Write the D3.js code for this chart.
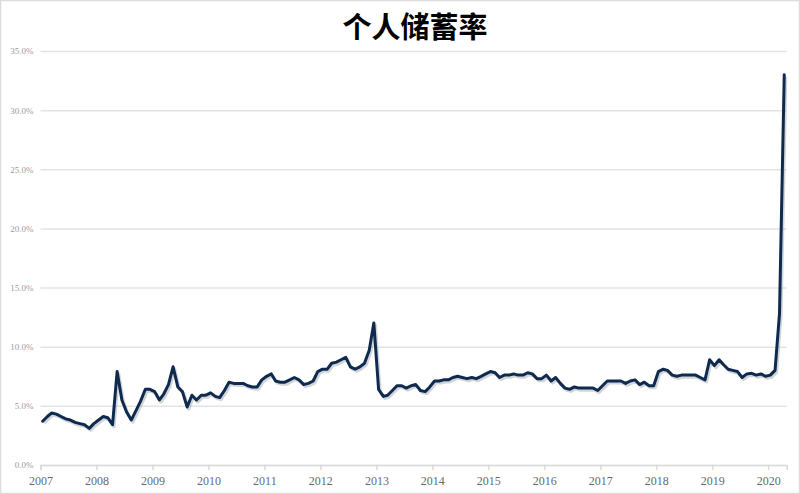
<!DOCTYPE html>
<html>
<head>
<meta charset="utf-8">
<script src="https://cdn.jsdelivr.net/npm/d3@7"></script>
<style>
  html, body { margin: 0; padding: 0; background: #fff; }
  svg { display: block; }
</style>
</head>
<body>
<svg id="chart" width="800" height="494"></svg>
<script>
// ---- data (monthly personal saving rate, %) ----
const startYear = 2007;
const rate2007 = [3.7, 4.1, 4.4, 4.3, 4.1, 3.9, 3.8, 3.6, 3.5, 3.4, 3.1, 3.5];
const rate2008 = [3.8, 4.1, 4.0, 3.4, 7.9, 5.5, 4.5, 3.8, 4.6, 5.4, 6.4, 6.4];
const rate2009 = [6.2, 5.5, 6.0, 6.8, 8.3, 6.6, 6.2, 4.9, 5.9, 5.5, 5.9, 5.9];
const rate2010 = [6.1, 5.8, 5.7, 6.3, 7.0, 6.9, 6.9, 6.9, 6.7, 6.6, 6.6, 7.2];
const rate2011 = [7.5, 7.7, 7.1, 7.0, 7.0, 7.2, 7.4, 7.2, 6.8, 6.9, 7.1, 7.9];
const rate2012 = [8.1, 8.1, 8.6, 8.7, 8.9, 9.1, 8.3, 8.1, 8.3, 8.6, 9.7, 12.0];
const rate2013 = [6.4, 5.8, 5.9, 6.3, 6.7, 6.7, 6.5, 6.7, 6.8, 6.3, 6.2, 6.6];
const rate2014 = [7.1, 7.1, 7.2, 7.2, 7.4, 7.5, 7.4, 7.3, 7.4, 7.3, 7.5, 7.7];
const rate2015 = [7.9, 7.8, 7.4, 7.6, 7.6, 7.7, 7.6, 7.6, 7.8, 7.7, 7.3, 7.3];
const rate2016 = [7.6, 7.1, 7.4, 6.9, 6.5, 6.4, 6.6, 6.5, 6.5, 6.5, 6.5, 6.3];
const rate2017 = [6.7, 7.1, 7.1, 7.1, 7.1, 6.9, 7.1, 7.2, 6.8, 7.0, 6.7, 6.7];
const rate2018 = [7.9, 8.1, 8.0, 7.6, 7.5, 7.6, 7.6, 7.6, 7.6, 7.4, 7.2, 8.9];
const rate2019 = [8.4, 8.9, 8.5, 8.1, 8.0, 7.9, 7.4, 7.7, 7.75, 7.6, 7.7, 7.5];
const rate2020 = [7.6, 8.0, 12.8, 33.0];

const yTicks = [0, 5, 10, 15, 20, 25, 30, 35];
const xTickYears = [2007, 2008, 2009, 2010, 2011, 2012, 2013, 2014, 2015, 2016, 2017, 2018, 2019, 2020];
const titleText = "个人储蓄率";

// ---- build series ----
const allYears = [rate2007, rate2008, rate2009, rate2010, rate2011, rate2012, rate2013,
                  rate2014, rate2015, rate2016, rate2017, rate2018, rate2019, rate2020];
const series = [];
allYears.forEach((arr, yi) => {
  arr.forEach((v, m) => series.push({ date: new Date(startYear + yi, m, 15), value: v }));
});

const svg = d3.select("#chart");
const W = 800, H = 494;

// frame
svg.append("rect").attr("x", 0.5).attr("y", 0.5).attr("width", W - 1).attr("height", H - 1)
  .attr("fill", "#fff").attr("stroke", "#dcdcdc").attr("stroke-width", 1.5);

const x = d3.scaleTime()
  .domain([new Date(2007, 0, 1), new Date(2020, 4, 1)])
  .range([40.5, 786.7]);
const y = d3.scaleLinear().domain([0, 35]).range([465, 51]);

// gridlines + y labels
const yAxis = d3.axisLeft(y).tickValues(yTicks)
  .tickSize(-(786.7 - 40.5)).tickPadding(7)
  .tickFormat(d => d3.format(".1f")(d) + "%");
const gy = svg.append("g").attr("transform", "translate(40.5,0)").call(yAxis);
gy.select(".domain").remove();
gy.selectAll(".tick line").attr("stroke", "#e3e3e3").attr("stroke-width", 1.5);
gy.selectAll(".tick text").attr("fill", "#9a9a9a")
  .style("font-family", "'Liberation Serif', 'DejaVu Serif', serif")
  .style("font-size", "9px");

// x axis
const xAxis = d3.axisBottom(x)
  .tickValues(xTickYears.map(yr => new Date(yr, 0, 1)))
  .tickSize(5).tickPadding(6)
  .tickFormat(d3.timeFormat("%Y"));
const gx = svg.append("g").attr("transform", "translate(0,465)").call(xAxis);
gx.select(".domain").attr("stroke", "#d9d9d9").attr("stroke-width", 1.5);
gx.selectAll(".tick line").attr("stroke", "#d9d9d9").attr("stroke-width", 1.5);
gx.selectAll(".tick text").attr("fill", "#6a6a6a")
  .style("font-family", "'Liberation Serif', 'DejaVu Serif', serif")
  .style("font-size", "12px");

// line with soft shadow
const line = d3.line().x(d => x(d.date)).y(d => y(d.value));
svg.append("path").datum(series)
  .attr("d", line)
  .attr("transform", "translate(1.5,2)")
  .attr("fill", "none").attr("stroke", "#9aa0a8").attr("stroke-opacity", 0.45)
  .attr("stroke-width", 3.2).attr("stroke-linejoin", "round");
svg.append("path").datum(series)
  .attr("d", line)
  .attr("fill", "none").attr("stroke", "#0f2a4f")
  .attr("stroke-width", 3).attr("stroke-linejoin", "round").attr("stroke-linecap", "round");

// title
svg.append("text").attr("x", 415).attr("y", 38).attr("text-anchor", "middle")
  .style("font-family", "'Noto Sans CJK SC', sans-serif")
  .style("font-weight", "bold").style("font-size", "29px").attr("fill", "#000")
  .text(titleText);
</script>
</body>
</html>
